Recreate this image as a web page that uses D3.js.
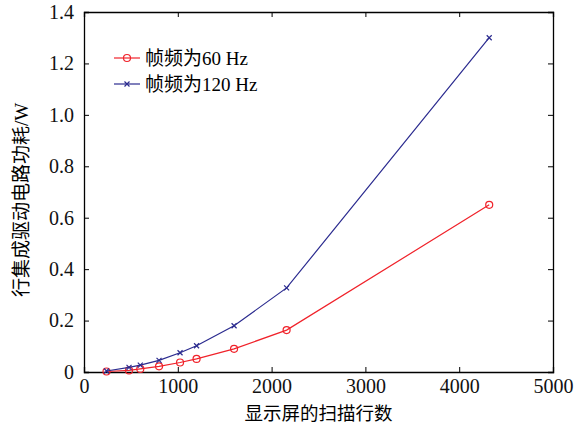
<!DOCTYPE html>
<html>
<head>
<meta charset="utf-8">
<script src="https://cdn.jsdelivr.net/npm/d3@7"></script>
<style>
  body { margin: 0; background: #fff; }
  text { font-family: "Liberation Serif", "DejaVu Serif", serif; }
  .cjk { font-family: "Liberation Serif", "Noto Sans CJK SC", serif; }
</style>
</head>
<body>
<div id="chart"></div>
<script>
// scan lines of the display
var scanLines = [240, 480, 600, 800, 1024, 1200, 1600, 2160, 4320];
// power (W) for 60 Hz and 120 Hz frame rate
var power60  = [0.002, 0.006, 0.012, 0.022, 0.037, 0.051, 0.090, 0.163, 0.650];
var power120 = [0.004, 0.018, 0.027, 0.045, 0.075, 0.102, 0.180, 0.327, 1.300];
var seriesNames = ['帧频为60 Hz', '帧频为120 Hz'];
var xTicks = [0, 1000, 2000, 3000, 4000, 5000];
var yTicks = [0, 0.2, 0.4, 0.6, 0.8, 1.0, 1.2, 1.4];

var width  = 586;
var height = 427;
var margin = { top: 12, bottom: 55, left: 84, right: 33 };

var svg = d3.select('#chart')
            .append('svg')
            .attr('width', width)
            .attr('height', height);

var xScale = d3.scaleLinear()
               .domain([0, 5000])
               .range([margin.left, width - margin.right]);
var yScale = d3.scaleLinear()
               .domain([0, 1.4])
               .range([height - margin.bottom, margin.top]);

var x0 = margin.left, x1 = width - margin.right;
var y0 = height - margin.bottom, y1 = margin.top;

// axes with inward ticks
svg.append('g')
   .attr('transform', 'translate(0,' + y0 + ')')
   .call(d3.axisBottom(xScale).tickValues(xTicks).tickSize(-5).tickPadding(7).tickFormat(d3.format('d')));
svg.append('g')
   .attr('transform', 'translate(0,' + y1 + ')')
   .call(d3.axisTop(xScale).tickValues(xTicks).tickSize(-5).tickFormat(''));
svg.append('g')
   .attr('transform', 'translate(' + x0 + ',0)')
   .call(d3.axisLeft(yScale).tickValues(yTicks).tickSize(-5).tickPadding(10)
           .tickFormat(function(d){ return d === 0 ? '0' : d3.format('.1f')(d); }));
svg.append('g')
   .attr('transform', 'translate(' + x1 + ',0)')
   .call(d3.axisRight(yScale).tickValues(yTicks).tickSize(-5).tickFormat(''));

svg.selectAll('.domain').attr('stroke', '#000').attr('stroke-width', 1.3);
svg.selectAll('.tick line').attr('stroke', '#000');
svg.selectAll('.tick text').attr('font-size', 20).attr('fill', '#111')
   .attr('font-family', '"Liberation Serif", serif');

// axis titles
svg.append('text')
   .attr('class', 'cjk')
   .attr('x', (x0 + x1) / 2)
   .attr('y', 420)
   .attr('text-anchor', 'middle')
   .attr('font-size', 18.5)
   .text('显示屏的扫描行数');
svg.append('text')
   .attr('class', 'cjk')
   .attr('transform', 'translate(28,' + ((y0 + y1) / 2 + 8) + ') rotate(-90)')
   .attr('text-anchor', 'middle')
   .attr('font-size', 19)
   .text('行集成驱动电路功耗/W');

var series = [
  { name: seriesNames[0], values: power60,  color: '#f0222a', marker: 'circle' },
  { name: seriesNames[1], values: power120, color: '#2b2b8f', marker: 'cross' }
];

var line = d3.line()
             .x(function(d){ return xScale(d[0]); })
             .y(function(d){ return yScale(d[1]); });

function drawMarker(g, m, color) {
  if (m === 'circle') {
    g.append('circle').attr('r', 3.5).attr('fill', 'none')
     .attr('stroke', color).attr('stroke-width', 1.2);
  } else {
    g.append('path').attr('d', 'M-2.5,-2.5L2.5,2.5M-2.5,2.5L2.5,-2.5')
     .attr('stroke', color).attr('stroke-width', 1.2);
  }
}

series.forEach(function(s) {
  var pts = scanLines.map(function(x, i){ return [x, s.values[i]]; });
  svg.append('path')
     .datum(pts)
     .attr('fill', 'none')
     .attr('stroke', s.color)
     .attr('stroke-width', 1.2)
     .attr('d', line);
  pts.forEach(function(p) {
    var g = svg.append('g')
               .attr('transform', 'translate(' + xScale(p[0]) + ',' + yScale(p[1]) + ')');
    drawMarker(g, s.marker, s.color);
  });
});

// legend
var legend = svg.append('g').attr('transform', 'translate(114,58)');
series.forEach(function(s, i) {
  var g = legend.append('g').attr('transform', 'translate(0,' + (i * 26) + ')');
  g.append('line').attr('x1', 0).attr('x2', 26).attr('y1', 0).attr('y2', 0)
   .attr('stroke', s.color).attr('stroke-width', 1.2);
  var m = g.append('g').attr('transform', 'translate(13,0)');
  drawMarker(m, s.marker, s.color);
  g.append('text')
   .attr('class', 'cjk')
   .attr('x', 31)
   .attr('y', 7)
   .attr('font-size', 19)
   .text(s.name);
});
</script>
</body>
</html>
